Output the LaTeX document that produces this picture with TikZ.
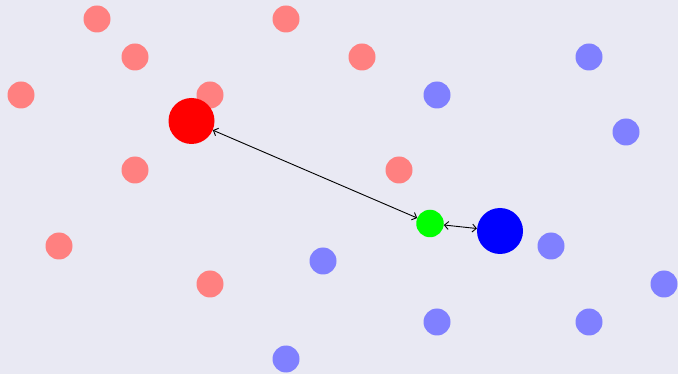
\documentclass[tikz,border=0pt]{standalone}
\usetikzlibrary{arrows.meta}
\begin{document}
\begin{tikzpicture}[x=1pt,y=-1pt,
  lred/.style={circle,fill=red!50,minimum size=27pt,inner sep=0pt},
  lblue/.style={circle,fill=blue!50,minimum size=27pt,inner sep=0pt},
  bigdot/.style={circle,minimum size=46pt,inner sep=0pt},
  gdot/.style={circle,fill=green,minimum size=27.5pt,inner sep=0pt},
  link/.style={{Straight Barb[length=4pt,width=8pt]}-{Straight Barb[length=4pt,width=8pt]},line width=0.9pt,black}]
\definecolor{bgcol}{RGB}{233,233,243}
\fill[bgcol] (0,0) rectangle (678,374);
\useasboundingbox (0,0) rectangle (678,374);
% light red
\foreach \x/\y [count=\i] in {97/19,286/19,135/57,362/57,21/95,210/95,135/170,399/170,59/246,210/284}
  \node[lred] (r\i) at (\x,\y) {};
% light blue
\foreach \x/\y [count=\i] in {589/57,437/95,626/132,551/246,323/261,664/284,437/322,589/322,286/359}
  \node[lblue] (b\i) at (\x,\y) {};
\node[bigdot,fill=red] (R) at (191.5,121) {};
\node[bigdot,fill=blue] (B) at (500,231) {};
\node[gdot] (G) at (430,223.5) {};
\draw[link] (R) -- (G);
\draw[link] (G) -- (B);
\end{tikzpicture}
\end{document}
